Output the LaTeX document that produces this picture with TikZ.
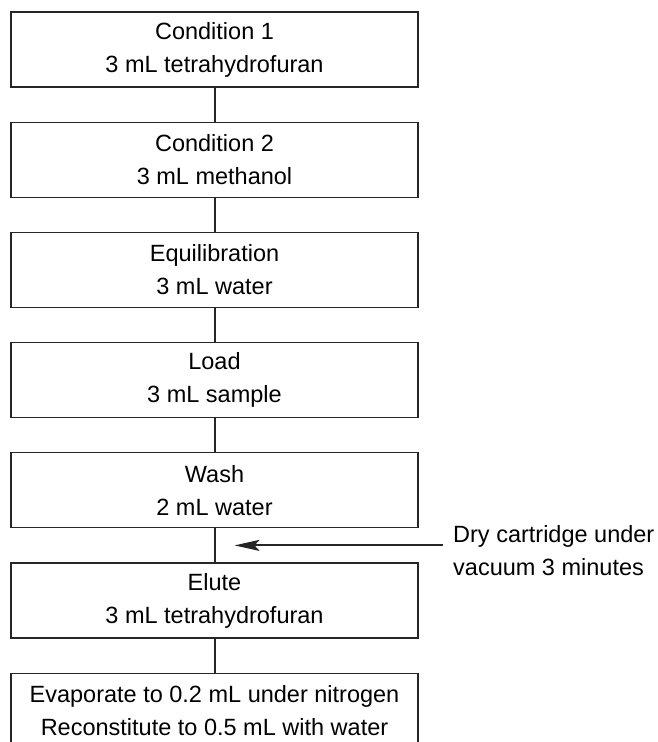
\documentclass[tikz,border=0pt]{standalone}
\usepackage{fontspec}
\setmainfont{Liberation Sans}
\usetikzlibrary{arrows.meta,calc}

\begin{document}
\begin{tikzpicture}[x=1pt,y=1pt]
	\tikzset{etape/.style={draw=black!85, line width=1.2pt, minimum width=407pt, minimum height=75pt,
		inner sep=0pt, align=center, font=\fontsize{23.5}{33}\selectfont},
	lien/.style={line width=2pt, black!85},
	fleche/.style={-{Stealth[length=25pt,width=11pt,inset=5pt]}, line width=2pt, black!85}};

	\useasboundingbox (0,0) rectangle (657,-742);

	\foreach \i/\titre/\quant in {0/Condition 1/3 mL tetrahydrofuran, 1/Condition 2/3 mL methanol,
		2/Equilibration/3 mL water, 3/Load/3 mL sample, 4/Wash/2 mL water,
		5/Elute/3 mL tetrahydrofuran,
		6/Evaporate to 0.2 mL under nitrogen/Reconstitute to 0.5 mL with water}{
			\node[etape] (e\i) at (214.5, -49.5 - 110.2 * \i) {\titre\\\quant};
	}

	\foreach \a/\b in {0/1, 1/2, 2/3, 3/4, 4/5, 5/6}
		\draw[lien] (e\a.south) -- (e\b.north);

	\node[anchor=west, align=left, inner xsep=10pt, inner ysep=0pt, font=\fontsize{23.5}{33}\selectfont]
		(note) at (443, -551) {Dry cartridge under\\vacuum 3 minutes};
	\coordinate (tip) at ($(e4.south)!0.5!(e5.north) + (20,0)$);
	\draw[fleche] (note.west |- tip) -- (tip);

\end{tikzpicture}
\end{document}
